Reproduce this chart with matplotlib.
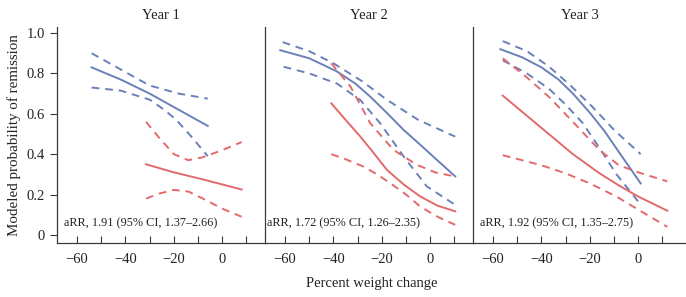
import matplotlib.pyplot as plt
from matplotlib.ticker import MultipleLocator

plt.rcParams['font.family'] = ['Liberation Serif', 'DejaVu Serif']

# ---- data: (x = percent weight change, y = probability) ----
years = ['Year 1', 'Year 2', 'Year 3']
notes = ['aRR, 1.91 (95% CI, 1.37\u20132.66)',
         'aRR, 1.72 (95% CI, 1.26\u20132.35)',
         'aRR, 1.92 (95% CI, 1.35\u20132.75)']

# Year 1
y1_blue_x = [-54, -42, -30, -18, -6]
y1_blue = [0.83, 0.77, 0.70, 0.62, 0.54]
y1_blue_hi = [0.90, 0.82, 0.74, 0.70, 0.675]
y1_blue_lo_x = [-54, -42, -30, -24, -19, -13, -6]
y1_blue_lo = [0.73, 0.715, 0.67, 0.62, 0.57, 0.49, 0.39]
y1_red_x = [-31.5, -20, -8, 8]
y1_red = [0.35, 0.31, 0.275, 0.225]
y1_red_hi_x = [-31.5, -26, -20, -14, -8, 0, 8]
y1_red_hi = [0.56, 0.48, 0.40, 0.37, 0.385, 0.42, 0.46]
y1_red_lo_x = [-31.5, -26, -20, -14, -8, 0, 8]
y1_red_lo = [0.18, 0.205, 0.223, 0.215, 0.18, 0.13, 0.09]

# Year 2
y2_blue_x = [-62, -50, -38.6, -31, -24.8, -18, -11, -4, 2.8, 10.3]
y2_blue = [0.915, 0.875, 0.81, 0.75, 0.685, 0.605, 0.52, 0.445, 0.371, 0.29]
y2_blue_hi_x = [-61, -50, -40, -28, -18, -5, 10.3]
y2_blue_hi = [0.955, 0.91, 0.85, 0.76, 0.67, 0.57, 0.487]
y2_blue_lo_x = [-60.6, -50, -38.6, -28.9, -20.7, -11, -1.4, 10.3]
y2_blue_lo = [0.833, 0.80, 0.75, 0.668, 0.553, 0.388, 0.24, 0.149]
y2_red_x = [-40.9, -35, -28.9, -23, -17.9, -11, -4.1, 3, 10.3]
y2_red = [0.652, 0.57, 0.487, 0.40, 0.322, 0.25, 0.19, 0.145, 0.117]
y2_red_hi_x = [-40.9, -33, -24.8, -15.2, -5.5, 2, 10.3]
y2_red_hi = [0.85, 0.735, 0.553, 0.421, 0.347, 0.31, 0.289]
y2_red_lo_x = [-40.9, -35, -27.5, -22, -16.5, -10, -4.1, 3, 10.3]
y2_red_lo = [0.40, 0.375, 0.338, 0.30, 0.256, 0.20, 0.14, 0.09, 0.05]

# Year 3
y3_blue_x = [-57, -48, -40, -33, -27, -20, -14, -7.4, 1]
y3_blue = [0.92, 0.88, 0.83, 0.77, 0.70, 0.605, 0.515, 0.40, 0.255]
y3_blue_hi_x = [-56, -46, -37, -28, -19, -10, 1]
y3_blue_hi = [0.96, 0.91, 0.835, 0.74, 0.635, 0.52, 0.40]
y3_blue_lo_x = [-56, -46, -37, -30, -23, -16, -9, 1]
y3_blue_lo = [0.865, 0.80, 0.725, 0.645, 0.555, 0.43, 0.30, 0.15]
y3_red_x = [-56, -46, -37, -27, -16, -8, 0, 12]
y3_red = [0.69, 0.59, 0.50, 0.40, 0.305, 0.245, 0.19, 0.12]
y3_red_hi_x = [-56, -46, -37, -27, -16, -8, 0, 12]
y3_red_hi = [0.875, 0.78, 0.685, 0.56, 0.42, 0.345, 0.31, 0.265]
y3_red_lo_x = [-56, -40, -30, -20, -9, 0, 12]
y3_red_lo = [0.395, 0.345, 0.305, 0.255, 0.19, 0.125, 0.04]

panels = [
    dict(blue=(y1_blue_x, y1_blue), blue_hi=(y1_blue_x, y1_blue_hi), blue_lo=(y1_blue_lo_x, y1_blue_lo),
         red=(y1_red_x, y1_red), red_hi=(y1_red_hi_x, y1_red_hi), red_lo=(y1_red_lo_x, y1_red_lo)),
    dict(blue=(y2_blue_x, y2_blue), blue_hi=(y2_blue_hi_x, y2_blue_hi), blue_lo=(y2_blue_lo_x, y2_blue_lo),
         red=(y2_red_x, y2_red), red_hi=(y2_red_hi_x, y2_red_hi), red_lo=(y2_red_lo_x, y2_red_lo)),
    dict(blue=(y3_blue_x, y3_blue), blue_hi=(y3_blue_hi_x, y3_blue_hi), blue_lo=(y3_blue_lo_x, y3_blue_lo),
         red=(y3_red_x, y3_red), red_hi=(y3_red_hi_x, y3_red_hi), red_lo=(y3_red_lo_x, y3_red_lo)),
]

BLUE = '#6b80b8'
RED = '#e26a6c'
AX_COL = '#3a3a3a'
W, H = 686, 297

fig = plt.figure(figsize=(W / 100, H / 100), dpi=100)

lefts = [57, 265, 473]
widths = [208, 208, 213]
bottom, top = 243, 27
x0 = -68.3
px_per_unit = 2.42

for i, p in enumerate(panels):
    ax = fig.add_axes([lefts[i] / W, (H - bottom) / H, widths[i] / W, (bottom - top) / H])
    ax.set_xlim(x0, x0 + widths[i] / px_per_unit)
    ax.set_ylim(-0.04, 1.03)

    ax.plot(*p['blue'], color=BLUE, lw=1.4)
    ax.plot(*p['blue_hi'], color=BLUE, lw=1.4, ls=(0, (4, 3)))
    ax.plot(*p['blue_lo'], color=BLUE, lw=1.4, ls=(0, (4, 3)))
    ax.plot(*p['red'], color=RED, lw=1.4)
    ax.plot(*p['red_hi'], color=RED, lw=1.4, ls=(0, (4, 3)))
    ax.plot(*p['red_lo'], color=RED, lw=1.4, ls=(0, (4, 3)))

    for s in ['top', 'right']:
        ax.spines[s].set_visible(False)
    for s in ['left', 'bottom']:
        ax.spines[s].set_color(AX_COL)
        ax.spines[s].set_linewidth(0.9)

    ax.xaxis.set_major_locator(MultipleLocator(20))
    ax.xaxis.set_minor_locator(MultipleLocator(10))
    ax.set_xticks([-60, -40, -20, 0])
    ax.set_xticklabels(['\u221260', '\u221240', '\u221220', '0'])
    ax.tick_params(axis='x', which='both', direction='in', length=5, width=0.8,
                   color=AX_COL, labelsize=10.5, pad=7, labelcolor='#222222')

    if i == 0:
        ax.set_yticks([0, 0.2, 0.4, 0.6, 0.8, 1.0])
        ax.set_yticklabels(['0', '0.2', '0.4', '0.6', '0.8', '1.0'])
        ax.tick_params(axis='y', direction='out', length=5, width=0.8,
                       color=AX_COL, labelsize=10.5, labelcolor='#222222')
        ax.set_ylabel('Modeled probability of remission', fontsize=10.8, color='#222222')
    else:
        ax.set_yticks([])

    ax.set_title(years[i], fontsize=10.5, color='#222222', pad=6)
    ax.text(0.035 if i != 1 else 0.01, 0.09, notes[i], transform=ax.transAxes,
            fontsize=8.8, color='#222222', va='center')

fig.text(0.5 * (57 + 686) / W, (H - 283) / H, 'Percent weight change',
         ha='center', va='center', fontsize=10.5, color='#222222')

fig.savefig('out.png', dpi=100)
